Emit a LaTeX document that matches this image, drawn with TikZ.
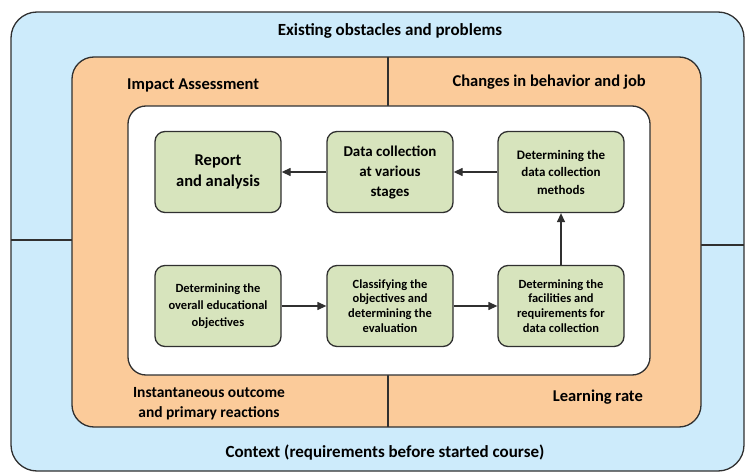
\documentclass[tikz,border=0pt]{standalone}
\usepackage{fontspec}
\setmainfont{Carlito}
\usetikzlibrary{arrows.meta}
\definecolor{bluebg}{HTML}{CDEBFB}
\definecolor{orangebg}{HTML}{FBCB9A}
\definecolor{greenbg}{HTML}{D7E4BD}
\definecolor{linec}{HTML}{303030}
\begin{document}
\begin{tikzpicture}[x=1pt,y=-1pt,
  frame/.style={draw=linec, line width=1.3pt},
  sep/.style={draw=linec, line width=1.3pt},
  box/.style={draw=linec, line width=1.3pt, fill=greenbg, rounded corners=10pt,
    minimum width=126pt, minimum height=81pt, align=center, inner sep=2pt,
    font=\bfseries\fontsize{12.5}{17}\selectfont},
  fourbox/.style={box, font=\bfseries\fontsize{12.5}{14.7}\selectfont},
  methbox/.style={box, font=\bfseries\fontsize{13}{17.5}\selectfont},
  dcbox/.style={box, font=\bfseries\fontsize{15}{20}\selectfont},
  bigbox/.style={box, font=\bfseries\fontsize{16.5}{20.5}\selectfont},
  lab/.style={font=\bfseries\fontsize{16.5}{20}\selectfont, align=center, inner sep=0pt},
  biglab/.style={lab, font=\bfseries\fontsize{17}{20}\selectfont},
  arr/.style={draw=linec, line width=1.3pt, -{Triangle[length=9pt,width=8pt]}}]
\useasboundingbox (0,0) rectangle (747,473);
\draw[frame, fill=bluebg, rounded corners=26pt] (11,12) rectangle (744,471);
\coordinate (hl1) at (11,240);
\coordinate (hl2) at (72,240);
\coordinate (hr1) at (701,245);
\coordinate (hr2) at (744,245);
\draw[sep] (hl1) -- (hl2);
\draw[sep] (hr1) -- (hr2);
\draw[frame, fill=orangebg, rounded corners=22pt] (72,57) rectangle (701,427);
\coordinate (vt1) at (388,57);
\coordinate (vt2) at (388,106);
\coordinate (vb1) at (388,375);
\coordinate (vb2) at (388,427);
\draw[sep] (vt1) -- (vt2);
\draw[sep] (vb1) -- (vb2);
\draw[frame, fill=white, rounded corners=18pt] (128,106) rectangle (650,375);

\node[biglab] (top) at (390,31) {Existing obstacles and problems};
\node[lab, anchor=west] (impact) at (127,85) {Impact Assessment};
\node[lab, anchor=east] (changes) at (646,82) {Changes in behavior and job};
\node[lab, font=\bfseries\fontsize{15.5}{20}\selectfont] (inst) at (209,404) {Instantaneous outcome\\and primary reactions};
\node[lab, anchor=east] (learn) at (643,397) {Learning rate};
\node[biglab] (context) at (385,453) {Context (requirements before started course)};

\node[bigbox] (rep) at (218,172) {Report\\and analysis};
\node[dcbox] (dc) at (390,172) {Data collection\\at various\\stages};
\node[methbox] (meth) at (561,172) {Determining the\\data collection\\methods};
\node[box] (obj) at (218,306) {Determining the\\overall educational\\objectives};
\node[fourbox] (cls) at (390,306) {Classifying the\\objectives and\\determining the\\evaluation};
\node[fourbox] (fac) at (561,306) {Determining the\\facilities and\\requirements for\\data collection};

\draw[arr] (dc) -- (rep);
\draw[arr] (meth) -- (dc);
\draw[arr] (fac) -- (meth);
\draw[arr] (obj) -- (cls);
\draw[arr] (cls) -- (fac);
\end{tikzpicture}
\end{document}
